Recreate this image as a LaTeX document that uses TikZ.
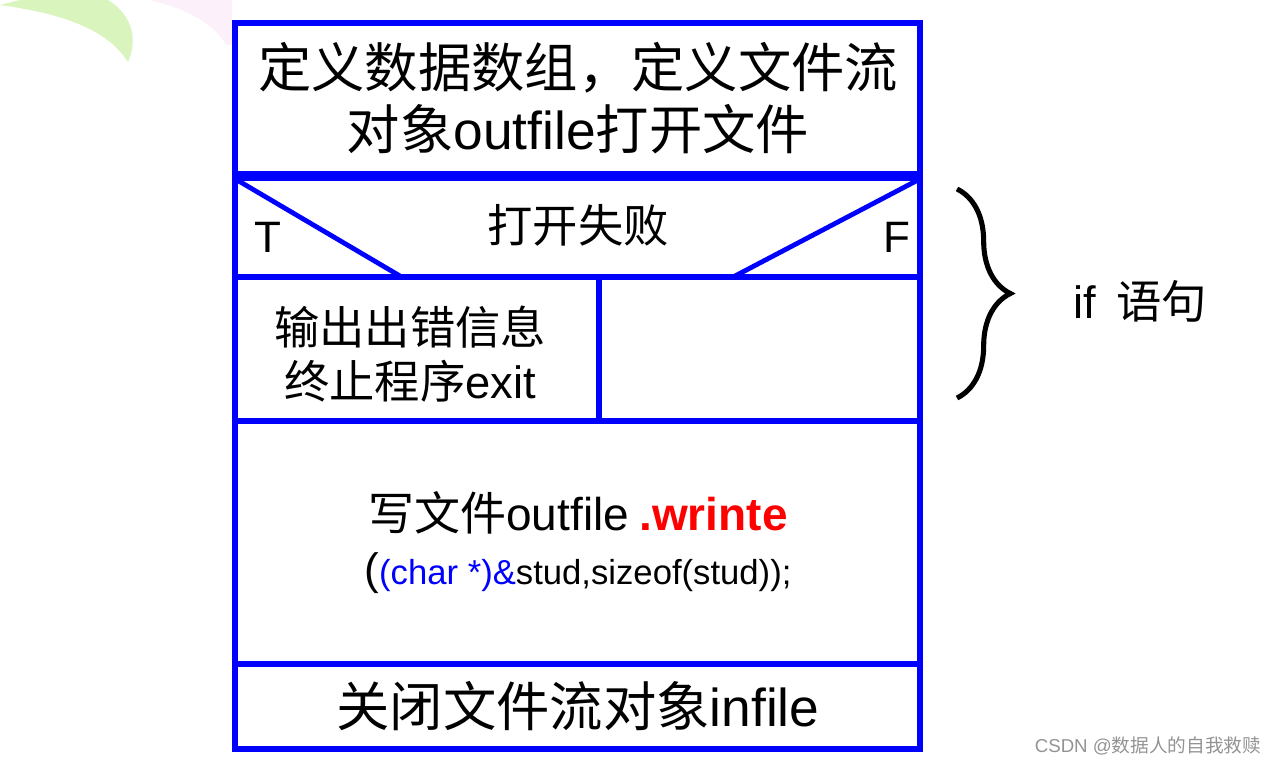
\documentclass[tikz,border=0pt]{standalone}
\usepackage{fontspec}
\setmainfont{Liberation Sans}
\newfontfamily\cjk{Noto Sans CJK SC}
\usepackage{tikz}
\usetikzlibrary{positioning, decorations.pathreplacing, calc}
\definecolor{nsblue}{HTML}{0000FF}
\definecolor{kwred}{HTML}{FF0000}
\definecolor{wmgray}{HTML}{939393}
\definecolor{leafgreen}{HTML}{DAF4BE}
\definecolor{leafpink}{HTML}{FCF1FA}
\newcommand{\lat}[1]{{\rmfamily #1}}
\tikzset{
  frame/.style={draw=nsblue, line width=4.5pt},
  band/.style={draw=nsblue, line width=6.8pt},
  diag/.style={draw=nsblue, line width=3.6pt},
  big/.style={font=\cjk\fontsize{40}{46.5}\selectfont, align=center, inner sep=0pt},
  mid/.style={font=\cjk\fontsize{34}{40}\selectfont, align=center, inner sep=0pt},
  code/.style={font=\fontsize{26}{30}\selectfont, inner sep=0pt, anchor=base},
  tflab/.style={font=\fontsize{33}{38}\selectfont, inner sep=0pt},
  wm/.style={font=\fontsize{14}{16}\selectfont, text=wmgray, inner sep=0pt},
  brc/.style={decorate, decoration={brace, amplitude=40pt}, line width=3.8pt},
}
\begin{document}
\begin{tikzpicture}[x=0.75pt, y=-0.75pt]
  \useasboundingbox (0,0) rectangle (1278,766);
  % faded slide decoration
  \fill[leafgreen] (0,5) .. controls (50,12) and (105,25) .. (128,62)
    .. controls (140,35) and (128,12) .. (108,0) -- (20,0) .. controls (10,2) .. (0,5);
  \fill[leafpink] (150,0) .. controls (190,10) and (215,25) .. (226,45) -- (232,45) -- (232,0) -- cycle;

  % N-S chart frame
  \draw[frame] (235,23) rectangle (920,749);
  \draw[band] (235,176) -- (920,176);
  \draw[frame] (235,277) -- (920,277);
  \draw[frame] (235,421) -- (920,421);
  \draw[frame] (235,664) -- (920,664);
  \draw[frame] (599,277) -- (599,421);
  \draw[diag] (237,180) -- (400,276);
  \draw[diag] (918,180) -- (735,276);

  \node[big] (init) at (578,98) {定义数据数组，定义文件流\\对象\lat{outfile}打开文件};
  \node[mid] (cond) at (578,225) {打开失败};
  \node[tflab] (tlab) at (268,237) {T};
  \node[tflab] (flab) at (897,237) {F};
  \node[mid] (err) at (410,354) {输出出错信息\\终止程序\lat{exit}};
  \node[font=\cjk\fontsize{34.5}{40}\selectfont, inner sep=0pt] (wr) at (578,513)
    {写文件\lat{outfile} \lat{\textcolor{kwred}{\textbf{.wrinte}}}};
  \node[code] (wrargs) at (578,584)
    {{\fontsize{33}{38}\selectfont(}\textcolor{nsblue}{(char *)\&}stud,sizeof(stud));};
  \node[big] (close) at (578,706) {关闭文件流对象\lat{infile}};

  % brace for the if part
  \coordinate (brtop) at (957,189);
  \coordinate (brbot) at (957,398);
  \draw[brc] (brtop) -- (brbot);
  \node[font=\fontsize{34}{38}\selectfont, inner sep=0pt] (iflab) at (1140,301) {if\, {\cjk 语句}};

  \node[wm] (mark) at (1148,746) {CSDN @{\cjk 数据人的自我救赎}};
\end{tikzpicture}
\end{document}
